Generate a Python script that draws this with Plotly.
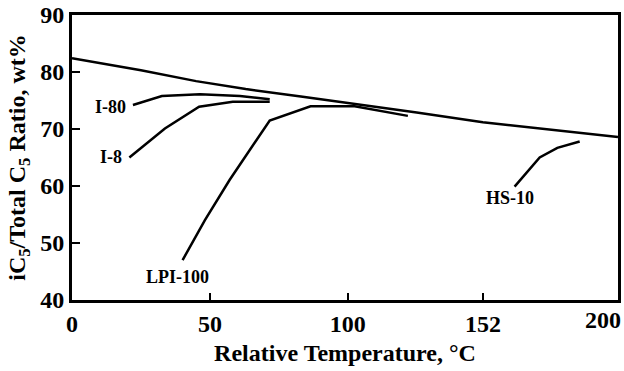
import plotly.graph_objects as go

# Data
main_x = [0, 25, 45, 63, 83, 100, 125, 149, 175, 198]
main_y = [82.4, 80.3, 78.4, 77.0, 75.7, 74.6, 72.9, 71.2, 69.8, 68.6]

i80_x = [22.1, 32.6, 46.4, 60.9, 71.7]
i80_y = [74.2, 75.8, 76.1, 75.8, 75.2]

i8_x = [20.8, 33.7, 46.1, 58.3, 71.7]
i8_y = [65.0, 70.1, 73.9, 74.8, 74.8]

lpi_x = [40.1, 48.2, 57.2, 71.7, 86.5, 102.5, 121.8]
lpi_y = [47.0, 54.0, 61.1, 71.5, 74.0, 74.0, 72.3]

hs_x = [160.5, 169.6, 176.0, 184.1]
hs_y = [59.9, 65.0, 66.7, 67.8]

series_names = ["I-80", "I-8", "LPI-100", "HS-10"]
label_x = [13.8, 14.1, 38.4, 159.0]
label_y = [73.9, 65.1, 44.0, 57.9]

x_tick_values = [0, 50, 100, 149]
x_tick_labels = ["0", "50", "100", "152", "200"]
y_tick_values = [40, 50, 60, 70, 80, 90]

FONT = "Liberation Serif, 'Times New Roman', Times, serif"

fig = go.Figure()
line_style = dict(color="black", width=2.5)
for xs, ys in [(main_x, main_y), (i80_x, i80_y), (i8_x, i8_y), (lpi_x, lpi_y), (hs_x, hs_y)]:
    fig.add_trace(go.Scatter(x=xs, y=ys, mode="lines", line=line_style,
                             showlegend=False, hoverinfo="skip"))

for name, lx, ly in zip(series_names, label_x, label_y):
    fig.add_annotation(x=lx, y=ly, text=name, showarrow=False, xref="x", yref="y",
                       font=dict(family=FONT, size=18, color="black", weight="bold"))

# last x label ("200") sits at the right edge without a tick mark
fig.add_annotation(x=1, y=0, xref="paper", yref="paper", xanchor="right", yanchor="top",
                   xshift=4, yshift=-6, borderpad=0,
                   text=x_tick_labels[-1], showarrow=False,
                   font=dict(family=FONT, size=24, color="black", weight="bold"))

fig.update_layout(
    width=624, height=371,
    margin=dict(l=72, r=6, t=15, b=71, autoexpand=False),
    paper_bgcolor="white", plot_bgcolor="white",
    font=dict(family=FONT, color="black", weight="bold"),
    xaxis=dict(range=[0, 198], tickvals=x_tick_values, ticktext=x_tick_labels[:4],
               automargin=False,
               ticks="inside", ticklen=7, tickwidth=1.5, tickcolor="black",
               showline=True, linewidth=3, linecolor="black", mirror=True,
               showgrid=False, zeroline=False,
               tickfont=dict(family=FONT, size=24, weight="bold"),
               title=dict(text="Relative Temperature, °C", standoff=9,
                          font=dict(family=FONT, size=24, weight="bold"))),
    yaxis=dict(range=[40, 90], tickvals=y_tick_values,
               automargin=False,
               ticks="inside", ticklen=8, tickwidth=1.5, tickcolor="black",
               showline=True, linewidth=3, linecolor="black", mirror=True,
               showgrid=False, zeroline=False,
               tickfont=dict(family=FONT, size=24, weight="bold"),
               title=dict(text="iC<sub>5</sub>/Total C<sub>5</sub> Ratio, wt%", standoff=8,
                          font=dict(family=FONT, size=24, weight="bold"))),
)

fig.write_html("out.html", config={"displayModeBar": False},
               post_script="document.body.style.margin='0';")
